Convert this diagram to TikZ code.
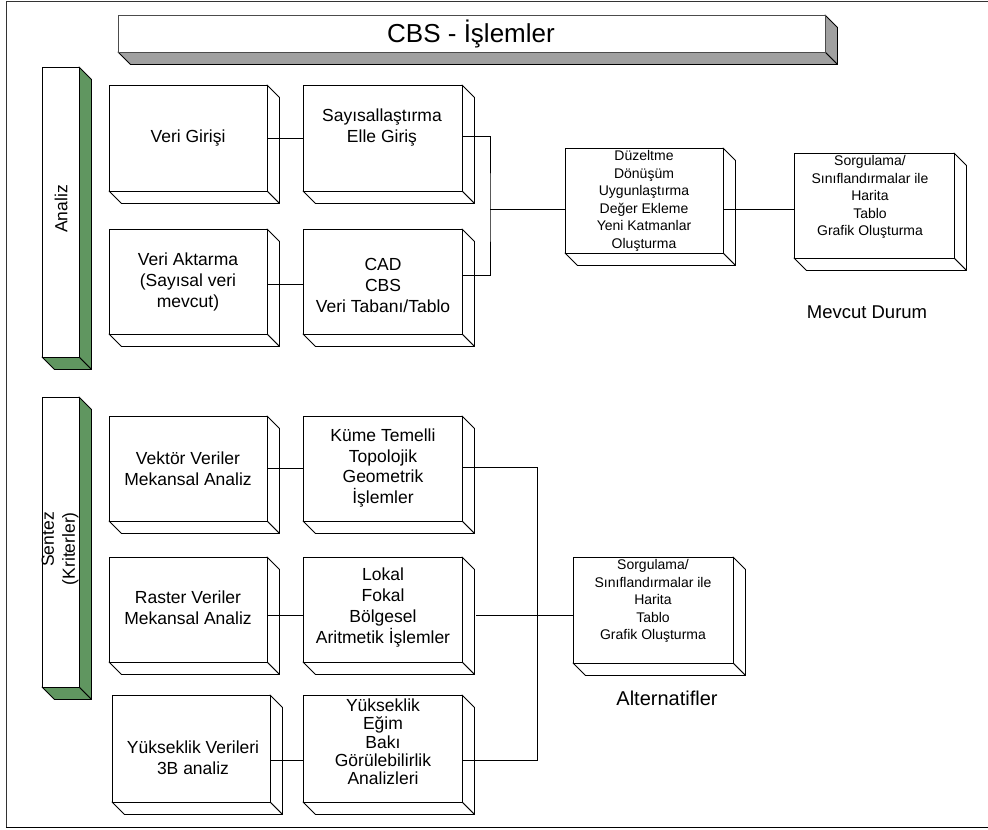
\documentclass[tikz,border=0pt]{standalone}
\usepackage{fontspec}
\setmainfont{Liberation Sans}
\definecolor{barg}{RGB}{96,150,96}
\definecolor{titg}{RGB}{160,160,160}
\tikzset{
  face/.style={draw=black, fill=white, line width=0.8pt, inner sep=0pt, outer sep=0pt},
  side/.style={draw=black, line width=0.8pt, line join=round},
  txt/.style={align=center, inner sep=0pt, font=\fontsize{17.5}{21}\selectfont},
  stxt/.style={align=center, inner sep=0pt, font=\fontsize{14}{17.5}\selectfont},
  lbl/.style={inner sep=0pt, font=\fontsize{18.5}{22}\selectfont},
  conn/.style={draw=black, line width=0.8pt},
  frame/.style={draw=black!80, line width=1pt},
}
% name, x1, y1, x2, y2, side fill, face border
\newcommand\tdbox[7]{%
  \filldraw[side,fill=#6] (#4,#3) -- (#4+12.5,#3+12.5) -- (#4+12.5,#5+12.5) -- (#4,#5) -- cycle;
  \filldraw[side,fill=#6] (#2,#5) -- (#4,#5) -- (#4+12.5,#5+12.5) -- (#2+12.5,#5+12.5) -- cycle;
  \node[face,draw=#7,minimum width={(#4-#2)*1pt},minimum height={(#5-#3)*1pt}] (#1) at ({(#2+#4)/2},{(#3+#5)/2}) {};
}
\begin{document}
\begin{tikzpicture}[x=1pt,y=-1pt]
\useasboundingbox (0,0) rectangle (988,830);
% outer frame
\draw[frame] (988,1.5) -- (6,1.5) -- (6,827.5);
\draw[draw=black, line width=1.8pt] (6,827.5) -- (988,827.5);

% title
\tdbox{tt}{118}{15}{825}{52}{titg}{black!70}
\node[inner sep=0pt, font=\fontsize{26}{30}\selectfont] (ttx) at (471,34) {CBS - İşlemler};

% left bars
\tdbox{an}{42}{67}{79}{357}{barg}{black}
\node[inner sep=0pt, rotate=90, font=\fontsize{17.5}{21}\selectfont] (antx) at (61,209) {Analiz};
\tdbox{sn}{42}{397}{79}{687}{barg}{black}
\node[inner sep=0pt, rotate=90, anchor=east, align=right, font=\fontsize{17.5}{21}\selectfont] (sntx) at (60,512) {Sentez\\(Kriterler)};

% upper section
\tdbox{vg}{109}{85}{267}{191}{white}{black}
\node[txt] (vgt) at (188,138) {Veri Girişi};
\tdbox{se}{303}{85}{462}{191}{white}{black}
\node[txt] (set) at (382,128) {Sayısallaştırma\\Elle Giriş};
\tdbox{va}{109}{229}{267}{334}{white}{black}
\node[txt] (vat) at (188,282) {Veri Aktarma\\(Sayısal veri\\mevcut)};
\tdbox{cad}{303}{229}{462}{334}{white}{black}
\node[txt] (cadt) at (383,285) {CAD\\CBS\\Veri Tabanı/Tablo};
\tdbox{dz}{565}{148}{723}{253}{white}{black}
\node[stxt] (dzt) at (644,201) {Düzeltme\\Dönüşüm\\Uygunlaştırma\\Değer Ekleme\\Yeni Katmanlar\\Oluşturma};
\tdbox{s1}{794}{153}{954}{258}{white}{black}
\node[stxt] (s1t) at (870,197) {Sorgulama/\\Sınıflandırmalar ile\\Harita\\Tablo\\Grafik Oluşturma};
\node[lbl] (mdt) at (867,312) {Mevcut Durum};

% lower section
\tdbox{vk}{109}{416}{267}{521}{white}{black}
\node[txt] (vkt) at (188,469) {Vektör Veriler\\Mekansal Analiz};
\tdbox{km}{303}{416}{462}{521}{white}{black}
\node[txt, font=\fontsize{17.5}{20.5}\selectfont] (kmt) at (383,468) {Küme Temelli\\Topolojik\\Geometrik\\İşlemler};
\tdbox{rs}{109}{557}{267}{662}{white}{black}
\node[txt] (rst) at (188,608) {Raster Veriler\\Mekansal Analiz};
\tdbox{lk}{303}{557}{462}{662}{white}{black}
\node[txt] (lkt) at (383,608) {Lokal\\Fokal\\Bölgesel\\Aritmetik İşlemler};
\tdbox{al}{573}{557}{733}{663}{white}{black}
\node[stxt] (alt) at (653,601) {Sorgulama/\\Sınıflandırmalar ile\\Harita\\Tablo\\Grafik Oluşturma};
\node[lbl, font=\fontsize{20}{24}\selectfont] (alx) at (667,698) {Alternatifler};
\tdbox{yv}{112}{695}{270}{802}{white}{black}
\node[txt] (yvt) at (193,758) {Yükseklik Verileri\\3B analiz};
\tdbox{yk}{303}{695}{462}{802}{white}{black}
\node[txt, font=\fontsize{17.5}{18.3}\selectfont] (ykt) at (383,742) {Yükseklik\\Eğim\\Bakı\\Görülebilirlik\\Analizleri};

% connectors upper
\coordinate (j1) at (490,209);
\draw[conn] (vg.east) -- (se.west);
\draw[conn] ([yshift=-2.5pt]va.east) -- ([yshift=-2.5pt]cad.west);
\draw[conn] ([yshift=2pt]se.east) -| (j1) |- ([yshift=6pt]cad.east);
\draw[conn] (j1) -- (j1 -| dz.west);
\draw[conn] (dz.east |- j1) -- (s1.west |- j1);

% connectors lower
\coordinate (j3) at (537,760);
\coordinate (lx) at (476,615);
\draw[conn] (vk.east) -- (km.west);
\draw[conn] ([yshift=1.5pt]km.east) -| (j3) -- (j3 -| yk.east);
\draw[conn] (rs.east |- lx) -- (lk.west |- lx);
\draw[conn] (lx) -- (lx -| al.west);
\draw[conn] (yv.east |- j3) -- (yk.west |- j3);
\end{tikzpicture}
\end{document}
